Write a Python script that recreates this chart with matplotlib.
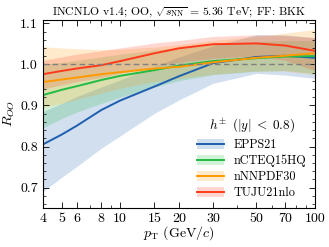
import matplotlib
matplotlib.use("Agg")
import matplotlib.pyplot as plt
from matplotlib.ticker import FixedLocator, NullFormatter, FixedFormatter
from matplotlib.patches import Patch
from matplotlib.lines import Line2D

plt.rcParams['font.family'] = ['cmr10', 'DejaVu Serif']
plt.rcParams['mathtext.fontset'] = 'cm'
plt.rcParams['axes.formatter.use_mathtext'] = True
plt.rcParams['axes.unicode_minus'] = False

pt = [4, 5, 6, 8, 10, 15, 20, 30, 50, 70, 100]

epps_c  = [0.805, 0.829, 0.851, 0.889, 0.912, 0.946, 0.971, 1.003, 1.018, 1.021, 1.016]
epps_lo = [0.690, 0.725, 0.752, 0.796, 0.826, 0.881, 0.913, 0.954, 0.978, 0.974, 0.966]
epps_hi = [0.885, 0.905, 0.922, 0.945, 0.962, 0.995, 1.018, 1.045, 1.072, 1.072, 1.065]

ncteq_c  = [0.925, 0.938, 0.947, 0.962, 0.972, 0.986, 0.997, 1.008, 1.015, 1.019, 1.020]
ncteq_lo = [0.845, 0.868, 0.884, 0.905, 0.920, 0.945, 0.960, 0.975, 0.983, 0.985, 0.978]
ncteq_hi = [1.000, 1.005, 1.010, 1.018, 1.025, 1.035, 1.040, 1.048, 1.055, 1.058, 1.058]

nnpdf_c  = [0.957, 0.963, 0.968, 0.976, 0.981, 0.990, 0.994, 1.005, 1.016, 1.021, 1.027]
nnpdf_lo = [0.895, 0.905, 0.915, 0.930, 0.942, 0.958, 0.966, 0.976, 0.984, 0.984, 0.975]
nnpdf_hi = [1.043, 1.040, 1.038, 1.036, 1.037, 1.042, 1.048, 1.058, 1.068, 1.076, 1.085]

tuju_c  = [0.976, 0.984, 0.990, 0.998, 1.008, 1.027, 1.039, 1.049, 1.051, 1.046, 1.033]
tuju_lo = [0.940, 0.950, 0.958, 0.968, 0.978, 0.995, 1.005, 1.015, 1.020, 1.010, 0.985]
tuju_hi = [1.010, 1.018, 1.025, 1.033, 1.040, 1.052, 1.058, 1.068, 1.072, 1.070, 1.065]

names = ['EPPS21', 'nCTEQ15HQ', 'nNNPDF30', 'TUJU21nlo']
colors = ['#1f5fb0', '#22bb44', '#ff9900', '#ff3a1a']
series = [(epps_c, epps_lo, epps_hi), (ncteq_c, ncteq_lo, ncteq_hi),
          (nnpdf_c, nnpdf_lo, nnpdf_hi), (tuju_c, tuju_lo, tuju_hi)]

xticks = [4, 5, 6, 8, 10, 15, 20, 30, 50, 70, 100]
xminor = [7, 9, 40, 60, 80, 90]
yticks = [0.7, 0.8, 0.9, 1.0, 1.1]

fig = plt.figure(figsize=(3.29, 2.47), dpi=100)
ax = fig.add_axes([0.130, 0.159, 0.827, 0.760])

for (c, lo, hi), col in zip(series, colors):
    ax.fill_between(pt, lo, hi, color=col, alpha=0.2, lw=0)
for (c, lo, hi), col in zip(series, colors):
    ax.plot(pt, c, color=col, lw=1.4)

ax.axhline(1.0, color='gray', ls='--', lw=1.0, dashes=(4, 2.5))

ax.set_xscale('log')
ax.set_xlim(4, 100)
ax.set_ylim(0.651, 1.108)
ax.xaxis.set_major_locator(FixedLocator(xticks))
ax.xaxis.set_major_formatter(FixedFormatter([str(v) for v in xticks]))
ax.xaxis.set_minor_locator(FixedLocator(xminor))
ax.xaxis.set_minor_formatter(NullFormatter())
ax.yaxis.set_major_locator(FixedLocator(yticks))
ax.yaxis.set_minor_locator(FixedLocator([0.66 + 0.02 * i for i in range(23)]))
ax.set_yticklabels(['0.7', '0.8', '0.9', '1.0', '1.1'])
ax.tick_params(which='both', direction='in', top=True, right=True, labelsize=10)
ax.tick_params(which='major', length=4, width=0.6)
ax.tick_params(which='minor', length=2, width=0.5)
for s in ax.spines.values():
    s.set_linewidth(0.8)

ax.set_xlabel(r'$p_{\rm T}$ (GeV/$c$)', fontsize=10, labelpad=0)
ax.set_ylabel(r'$R_{OO}$', fontsize=10, labelpad=2)
ax.set_title(r'INCNLO v1.4; OO, $\sqrt{s_{\rm NN}}$ = 5.36 TeV; FF: BKK', fontsize=8.4, pad=4)

handles = [(Patch(facecolor=col, alpha=0.2, lw=0), Line2D([], [], color=col, lw=1.4)) for col in colors]
leg = ax.legend(handles, names, loc='lower right', frameon=False, fontsize=8.8,
                title=r'$h^{\pm}\ \,(|y|\;<\;0.8)$', title_fontsize=9.5,
                handlelength=2.2, handleheight=0.9, labelspacing=0.3,
                borderaxespad=0.3, handletextpad=0.8)

fig.savefig('out.png', dpi=100)
